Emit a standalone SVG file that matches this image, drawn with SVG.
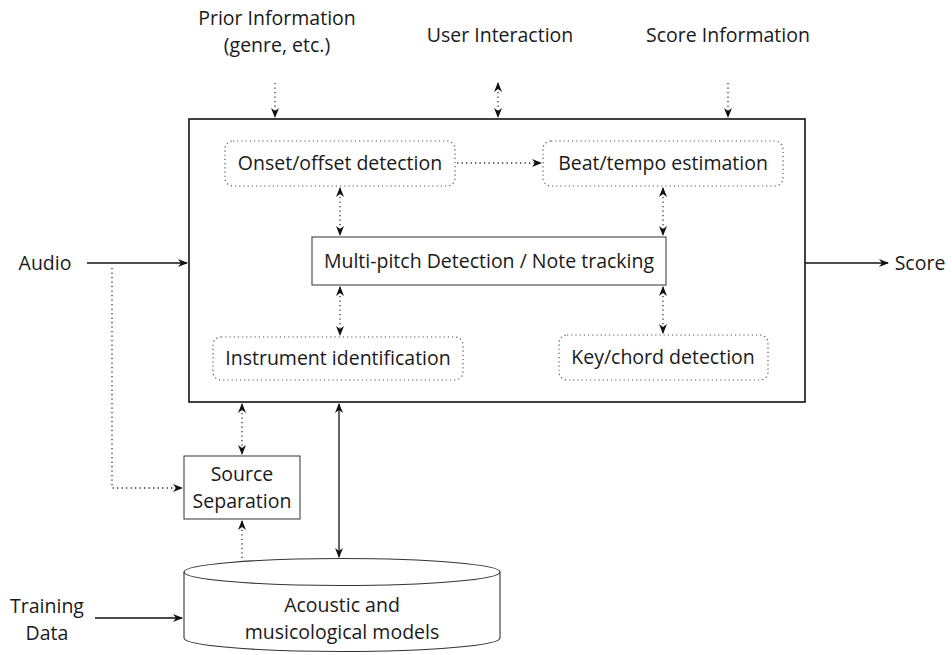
<svg xmlns="http://www.w3.org/2000/svg" width="952" height="655" viewBox="0 0 952 655">
<style>
text{font-family:"Open Sans","Liberation Sans",Arial,sans-serif;font-size:19.5px;fill:#1a1a1a;text-anchor:middle}
.dot{fill:none;stroke:#333;stroke-width:1.3;stroke-dasharray:1.3 3.2}
.sol{fill:none;stroke:#111;stroke-width:1.3}
.dbox{fill:#fff;stroke:#555;stroke-width:1.2;stroke-dasharray:1.2 3}
.box{fill:#fff;stroke:#444;stroke-width:1.1}
</style>
<defs>
<marker id="ah" viewBox="0 0 10 10" refX="9" refY="5" markerWidth="10" markerHeight="10" markerUnits="userSpaceOnUse" orient="auto-start-reverse">
<path d="M0,1 L10,5 L0,9 L3,5 Z" fill="#111"/>
</marker>
</defs>
<g id="main"><rect x="189" y="119" width="616" height="283" fill="#fff" stroke="#111" stroke-width="1.6"/></g>
<g id="onset"><rect class="dbox" x="225" y="141" width="230" height="45" rx="8"/><text x="340" y="170">Onset/offset detection</text></g>
<g id="beat"><rect class="dbox" x="543" y="141" width="240" height="45" rx="8"/><text x="663" y="170">Beat/tempo estimation</text></g>
<g id="multipitch"><rect class="box" x="312" y="237" width="354" height="48"/><text x="489" y="268">Multi-pitch Detection / Note tracking</text></g>
<g id="instrument"><rect class="dbox" x="213" y="337" width="250" height="43" rx="8"/><text x="338" y="365">Instrument identification</text></g>
<g id="keychord"><rect class="dbox" x="559" y="335" width="209" height="45" rx="8"/><text x="663" y="364">Key/chord detection</text></g>
<g id="prior"><text x="277" y="25">Prior Information</text><text x="277" y="52">(genre, etc.)</text></g>
<g id="user"><text x="500" y="42">User Interaction</text></g>
<g id="scoreinfo"><text x="728" y="42">Score Information</text></g>
<g id="audio"><text x="45" y="270">Audio</text></g>
<g id="score"><text x="920" y="270">Score</text></g>
<g id="training"><text x="47" y="613">Training</text><text x="47" y="640">Data</text></g>
<g id="sourcesep"><rect class="box" x="184" y="456" width="116" height="63"/><text x="242" y="481">Source</text><text x="242" y="508">Separation</text></g>
<g id="models">
<path d="M184,572 L184,638 A158,13.5 0 0 0 500,638 L500,572" fill="#fff" stroke="#333" stroke-width="1.1"/>
<ellipse cx="342" cy="572" rx="158" ry="13.5" fill="#fff" stroke="#333" stroke-width="1.1"/>
<text x="342" y="612">Acoustic and</text><text x="342" y="639">musicological models</text>
</g>
<g id="connectors">
<line class="dot" x1="275" y1="83" x2="275" y2="117" marker-end="url(#ah)"/>
<line class="dot" x1="498" y1="83" x2="498" y2="117" marker-start="url(#ah)" marker-end="url(#ah)"/>
<line class="dot" x1="728" y1="83" x2="728" y2="117" marker-end="url(#ah)"/>
<line class="dot" x1="457" y1="163" x2="541" y2="163" marker-end="url(#ah)"/>
<line class="dot" x1="340" y1="188" x2="340" y2="235" marker-start="url(#ah)" marker-end="url(#ah)"/>
<line class="dot" x1="663" y1="188" x2="663" y2="235" marker-start="url(#ah)" marker-end="url(#ah)"/>
<line class="dot" x1="340" y1="287" x2="340" y2="335" marker-start="url(#ah)" marker-end="url(#ah)"/>
<line class="dot" x1="663" y1="287" x2="663" y2="333" marker-start="url(#ah)" marker-end="url(#ah)"/>
<line class="sol" x1="87" y1="263" x2="187" y2="263" marker-end="url(#ah)"/>
<line class="sol" x1="805" y1="263" x2="888" y2="263" marker-end="url(#ah)"/>
<path class="dot" d="M112,268 L112,488 L182,488" marker-end="url(#ah)"/>
<line class="dot" x1="242" y1="404" x2="242" y2="454" marker-start="url(#ah)" marker-end="url(#ah)"/>
<line class="dot" x1="242" y1="558" x2="242" y2="521" marker-end="url(#ah)"/>
<line class="sol" x1="339" y1="404" x2="339" y2="557" marker-start="url(#ah)" marker-end="url(#ah)"/>
<line class="sol" x1="95" y1="618" x2="182" y2="618" marker-end="url(#ah)"/>
</g>
</svg>
